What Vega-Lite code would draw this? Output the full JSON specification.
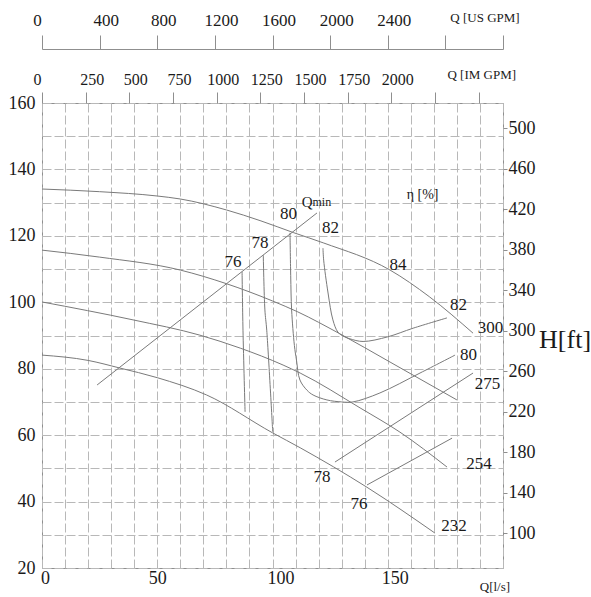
{
  "$schema": "https://vega.github.io/schema/vega-lite/v6.json",
  "width": 461,
  "height": 465,
  "autosize": {"type": "none"},
  "padding": {"left": 42, "top": 103, "right": 88, "bottom": 29},
  "background": "white",
  "config": {
    "view": {"stroke": "#8f8f8f", "strokeWidth": 1},
    "font": "Liberation Serif",
    "axis": {"labelFont": "Liberation Serif", "labelColor": "#1a1a1a", "labelFlush": false, "labelOverlap": false, "format": "d"}
  },
  "datasets": {
    "hq": [
      {"c": "300", "Q": 0, "H": 134.1}, {"c": "300", "Q": 25, "H": 133.3}, {"c": "300", "Q": 50, "H": 132.0}, {"c": "300", "Q": 60, "H": 131.1}, {"c": "300", "Q": 80, "H": 127.8}, {"c": "300", "Q": 95, "H": 124.5}, {"c": "300", "Q": 109, "H": 121.0}, {"c": "300", "Q": 122, "H": 117.9}, {"c": "300", "Q": 151, "H": 109.7}, {"c": "300", "Q": 168, "H": 101.7}, {"c": "300", "Q": 187, "H": 90.7},
      {"c": "275", "Q": 0, "H": 115.7}, {"c": "275", "Q": 25, "H": 113.6}, {"c": "275", "Q": 60, "H": 109.7}, {"c": "275", "Q": 80, "H": 105.6}, {"c": "275", "Q": 100, "H": 100.4}, {"c": "275", "Q": 111, "H": 97.1}, {"c": "275", "Q": 129, "H": 90.6}, {"c": "275", "Q": 151, "H": 82.0}, {"c": "275", "Q": 180, "H": 70.6},
      {"c": "254", "Q": 0, "H": 100.1}, {"c": "254", "Q": 39.5, "H": 94.7}, {"c": "254", "Q": 68.5, "H": 90.1}, {"c": "254", "Q": 86, "H": 86.2}, {"c": "254", "Q": 104.6, "H": 81.1}, {"c": "254", "Q": 112, "H": 78.7}, {"c": "254", "Q": 138, "H": 68.2}, {"c": "254", "Q": 155.3, "H": 60.9}, {"c": "254", "Q": 175.7, "H": 50.4},
      {"c": "232", "Q": 0, "H": 84.1}, {"c": "232", "Q": 20, "H": 82.5}, {"c": "232", "Q": 33.8, "H": 80.2}, {"c": "232", "Q": 50, "H": 77.3}, {"c": "232", "Q": 71.4, "H": 72.1}, {"c": "232", "Q": 100, "H": 60.7}, {"c": "232", "Q": 112, "H": 56.2}, {"c": "232", "Q": 141, "H": 44.3}, {"c": "232", "Q": 170.5, "H": 30.5},
      {"c": "Qmin", "Q": 23.9, "H": 75.1}, {"c": "Qmin", "Q": 119.3, "H": 126.9}
    ],
    "eff": [
      {"c": "76L", "o": 1, "Q": 86.8, "H": 109.2}, {"c": "76L", "o": 2, "Q": 87.2, "H": 91.6}, {"c": "76L", "o": 3, "Q": 88.1, "H": 67.0},
      {"c": "78L", "o": 1, "Q": 96.0, "H": 114.2}, {"c": "78L", "o": 2, "Q": 96.7, "H": 97.7}, {"c": "78L", "o": 3, "Q": 97.5, "H": 91.6}, {"c": "78L", "o": 4, "Q": 100.1, "H": 61.0},
      {"c": "80", "o": 1, "Q": 107.6, "H": 120.9}, {"c": "80", "o": 2, "Q": 107.9, "H": 108.0}, {"c": "80", "o": 3, "Q": 108.3, "H": 97.7}, {"c": "80", "o": 4, "Q": 109.5, "H": 87.0}, {"c": "80", "o": 5, "Q": 110.4, "H": 82.6}, {"c": "80", "o": 6, "Q": 111.9, "H": 76.6}, {"c": "80", "o": 7, "Q": 115.0, "H": 73.5}, {"c": "80", "o": 8, "Q": 117.6, "H": 72.1}, {"c": "80", "o": 9, "Q": 123.6, "H": 70.6}, {"c": "80", "o": 10, "Q": 130.0, "H": 70.0}, {"c": "80", "o": 11, "Q": 134.9, "H": 70.0}, {"c": "80", "o": 12, "Q": 146.6, "H": 72.7}, {"c": "80", "o": 13, "Q": 164.0, "H": 78.7}, {"c": "80", "o": 14, "Q": 179.2, "H": 84.1},
      {"c": "82", "o": 1, "Q": 121.9, "H": 116.3}, {"c": "82", "o": 2, "Q": 122.2, "H": 112.7}, {"c": "82", "o": 3, "Q": 124.1, "H": 102.8}, {"c": "82", "o": 4, "Q": 126.2, "H": 94.7}, {"c": "82", "o": 5, "Q": 128.4, "H": 91.0}, {"c": "82", "o": 6, "Q": 131.0, "H": 89.7}, {"c": "82", "o": 7, "Q": 133.6, "H": 89.0}, {"c": "82", "o": 8, "Q": 139.3, "H": 88.2}, {"c": "82", "o": 9, "Q": 150.0, "H": 89.6}, {"c": "82", "o": 10, "Q": 161.0, "H": 92.2}, {"c": "82", "o": 11, "Q": 175.7, "H": 95.3},
      {"c": "78R", "o": 1, "Q": 127.1, "H": 51.9}, {"c": "78R", "o": 2, "Q": 187.0, "H": 78.7},
      {"c": "76R", "o": 1, "Q": 141.0, "H": 45.0}, {"c": "76R", "o": 2, "Q": 177.9, "H": 59.1}
    ]
  },
  "layer": [
    {
      "encoding": {
        "x": {"field": "Q", "type": "quantitative",
          "scale": {"domain": [0, 200], "nice": false, "zero": false},
          "axis": {"orient": "bottom", "title": null,
            "values": [0,10,20,30,40,50,60,70,80,90,100,110,120,130,140,150,160,170,180,190,200],
            "labelExpr": "datum.value % 50 == 0 && datum.value < 200 ? datum.label : ''",
            "ticks": false, "domain": false, "grid": true, "gridColor": "#b8b8b8", "gridDash": [9, 3], "gridWidth": 1,
            "labelFontSize": 18, "labelPadding": 1,
            "labelOffset": {"condition": [{"test": "datum.value == 0", "value": 3}, {"test": "datum.value == 100", "value": 8}, {"test": "datum.value == 150", "value": 7}], "value": 0}}},
        "y": {"field": "H", "type": "quantitative",
          "scale": {"domain": [20, 160], "nice": false, "zero": false},
          "axis": {"orient": "left", "title": null,
            "values": [20,30,40,50,60,70,80,90,100,110,120,130,140,150,160],
            "labelExpr": "datum.value % 20 == 0 ? datum.label : ''",
            "ticks": false, "domain": false, "grid": true, "gridColor": "#b8b8b8", "gridDash": [9, 3], "gridWidth": 1,
            "labelFontSize": 18, "labelPadding": 7}}
      },
      "layer": [
        {"data": {"name": "hq"}, "mark": {"type": "line", "interpolate": "monotone", "color": "#7a7a7a", "strokeWidth": 1},
         "encoding": {"detail": {"field": "c"}}},
        {"data": {"name": "eff"}, "mark": {"type": "line", "interpolate": "catmull-rom", "color": "#7a7a7a", "strokeWidth": 1},
         "encoding": {"detail": {"field": "c"}, "order": {"field": "o", "type": "quantitative"}}},
        {"data": {"values": [
            {"Q": 82.86, "H": 112.12, "t": "76"}, {"Q": 94.58, "H": 117.84, "t": "78"}, {"Q": 106.9, "H": 126.73, "t": "80"},
            {"Q": 125.2, "H": 122.36, "t": "82"}, {"Q": 154.4, "H": 111.37, "t": "84"}, {"Q": 180.7, "H": 99.17, "t": "82"},
            {"Q": 185.0, "H": 84.27, "t": "80"}, {"Q": 121.5, "H": 47.53, "t": "78"}, {"Q": 137.5, "H": 39.25, "t": "76"},
            {"Q": 194.6, "H": 92.25, "t": "300"}, {"Q": 193.3, "H": 75.54, "t": "275"}, {"Q": 189.6, "H": 51.45, "t": "254"}, {"Q": 178.7, "H": 32.78, "t": "232"}
          ]},
         "mark": {"type": "text", "font": "Liberation Serif", "fontSize": 17, "align": "center", "baseline": "middle", "color": "#1a1a1a"},
         "encoding": {"text": {"field": "t"}}},
        {"data": {"values": [
            {"Q": 192.2, "H": 185.5, "t": "Q [US GPM]"}, {"Q": 190.8, "H": 168.4, "t": "Q [IM GPM]"}, {"Q": 196.5, "H": 14.41, "t": "Q[l/s]"}
          ]},
         "mark": {"type": "text", "font": "Liberation Serif", "fontSize": 13, "align": "center", "baseline": "middle", "color": "#1a1a1a"},
         "encoding": {"text": {"field": "t"}}},
        {"data": {"values": [{"Q": 165.1, "H": 132.3, "t": "η [%]"}]},
         "mark": {"type": "text", "font": "Liberation Serif", "fontSize": 14, "align": "center", "baseline": "middle", "color": "#1a1a1a"},
         "encoding": {"text": {"field": "t"}}},
        {"data": {"values": [{"Q": 117.35, "H": 128.68, "t": "Q"}]},
         "mark": {"type": "text", "font": "Liberation Serif", "fontSize": 15, "align": "right", "baseline": "alphabetic", "color": "#1a1a1a"},
         "encoding": {"text": {"field": "t"}}},
        {"data": {"values": [{"Q": 117.35, "H": 129.13, "t": "min"}]},
         "mark": {"type": "text", "font": "Liberation Serif", "fontSize": 12, "align": "left", "baseline": "alphabetic", "color": "#1a1a1a"},
         "encoding": {"text": {"field": "t"}}},
        {"data": {"values": [{"Q": 238.2, "H": 86.2, "t": "H[ft]"}]},
         "mark": {"type": "text", "font": "Liberation Serif", "fontSize": 26, "align": "right", "baseline": "alphabetic", "color": "#1a1a1a"},
         "encoding": {"text": {"field": "t"}}}
      ]
    },
    {
      "data": {"values": [{"im": 0, "ft": 100}]},
      "mark": {"type": "point", "opacity": 0},
      "encoding": {
        "x": {"field": "im", "type": "quantitative",
          "scale": {"domain": [0, 2639.6], "nice": false, "zero": false},
          "axis": {"orient": "top", "title": null, "format": "d",
            "values": [0,250,500,750,1000,1250,1500,1750,2000,2250,2500],
            "labelExpr": "datum.value <= 2000 ? datum.label : ''",
            "tickSize": 11, "tickColor": "#8f8f8f", "domain": false, "grid": false,
            "labelPadding": 5, "labelFontSize": 16,
            "labelOffset": {"condition": {"test": "datum.value == 0", "value": -5}, "value": 6}}},
        "y": {"field": "ft", "type": "quantitative",
          "scale": {"domain": [65.617, 524.934], "nice": false, "zero": false},
          "axis": {"orient": "right", "title": null, "format": "d",
            "values": [100,140,180,220,260,300,340,380,420,460,500],
            "tickSize": 4, "tickColor": "#8f8f8f", "domain": false, "grid": false,
            "labelPadding": 1, "labelFontSize": 18}}
      }
    },
    {
      "data": {"values": [{"us": 0}]},
      "mark": {"type": "point", "opacity": 0},
      "encoding": {
        "x": {"field": "us", "type": "quantitative",
          "scale": {"domain": [0, 3200], "nice": false, "zero": false},
          "axis": {"orient": "top", "offset": 54, "title": null, "format": "d",
            "values": [0,400,800,1200,1600,2000,2400,2800,3200],
            "labelExpr": "datum.value <= 2400 ? datum.label : ''",
            "tickSize": 14, "tickColor": "#8f8f8f", "domain": true, "domainColor": "#8f8f8f", "grid": false,
            "labelPadding": 6, "labelFontSize": 17,
            "labelOffset": {"condition": {"test": "datum.value == 0", "value": -5}, "value": 6}}}
      }
    }
  ],
  "resolve": {"scale": {"x": "independent", "y": "independent"}, "axis": {"x": "independent", "y": "independent"}}
}
